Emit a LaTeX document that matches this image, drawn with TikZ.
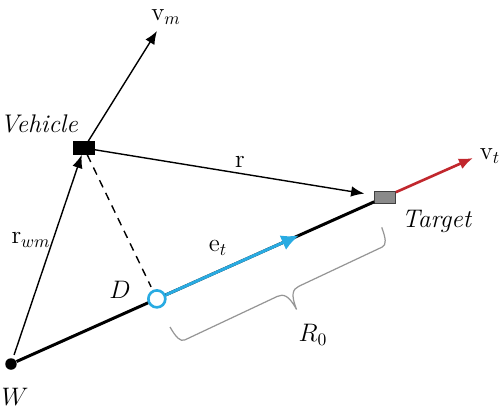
\documentclass[tikz,border=0pt]{standalone}
\usetikzlibrary{arrows.meta,calc}
\definecolor{etblue}{RGB}{41,171,226}
\definecolor{vtred}{RGB}{193,39,45}
\definecolor{bracegray}{RGB}{150,150,150}
\definecolor{targetgray}{RGB}{138,138,138}
\begin{document}
\begin{tikzpicture}[x=0.02cm, y=-0.02cm,
		lbl/.style={font=\fontsize{14.5}{17}\selectfont, inner sep=1pt},
		vec/.style={-{Latex[length=7.5pt,width=6pt]}, line width=0.8pt}]
			\useasboundingbox (0,0) rectangle (500,416);
			\node [draw, fill=black, inner sep=0, minimum width=0.42cm, minimum height=0.26cm] (vehicle) at (84,148) {};
			\node [draw=black!75, fill=targetgray, inner sep=0, minimum width=0.42cm, minimum height=0.24cm] (target) at (385,197) {};
			\node [circle, fill=black, inner sep=0, minimum size=0.23cm] (w) at (11,364) {};
			\coordinate (vmtip) at (157,31);
			\coordinate (vttip) at (473,158);
			\coordinate (ettip) at ($(w)!0.77!(target)$);
			\coordinate (rleft) at (170,327);
			\draw [line width=1.7pt] (w) -- (target);
			\node [circle, draw=etblue, line width=1.5pt, fill=white, inner sep=0, minimum size=0.34cm] (d) at ($(w)!0.39!(target)$) {};
			\draw [vec] (vehicle) -- (vmtip);
			\draw [vec, shorten >=0.2cm] (vehicle) -- (target);
			\draw [vec, shorten <=2pt] (w) -- (vehicle);
			\draw [line width=0.8pt, dash pattern=on 4.5pt off 3.5pt, shorten >=2pt] (vehicle) -- (d);
			\draw [-{Latex[length=10pt,width=9pt]}, line width=1.7pt, etblue] (d) -- (ettip);
			\draw [-{Latex[length=8pt,width=6.5pt]}, line width=1.5pt, vtred] (target) -- (vttip);
			% brace under the line, drawn along it
			\begin{scope}[shift={(rleft)}, rotate=25.2]
				\draw [bracegray, line width=0.7pt] (0,0) .. controls (1,12) and (3,18) .. (8,18) -- (110,18) .. controls (117,18) and (121,22) .. (122,38) .. controls (123,22) and (127,18) .. (134,18) -- (226,18) .. controls (231,18) and (233,12) .. (234,0);
			\end{scope}
			\node [lbl] (vmlabel) at (166,17) {$\mathrm{v}_m$};
			\node [lbl] (vehiclelabel) at (39,124) {\emph{Vehicle}};
			\node [lbl] (rlabel) at (240,162) {$\mathrm{r}$};
			\node [lbl] (targetlabel) at (437,221) {\emph{Target}};
			\node [lbl] (vtlabel) at (490,156) {$\mathrm{v}_t$};
			\node [lbl] (rwmlabel) at (31,240) {$\mathrm{r}_{wm}$};
			\node [lbl] (dlabel) at (120,290) {$D$};
			\node [lbl] (etlabel) at (218,248) {$\mathrm{e}_t$};
			\node [lbl] (r0label) at (313,335) {$R_0$};
			\node [lbl] (wlabel) at (15,397) {$W$};
		\end{tikzpicture}
\end{document}
